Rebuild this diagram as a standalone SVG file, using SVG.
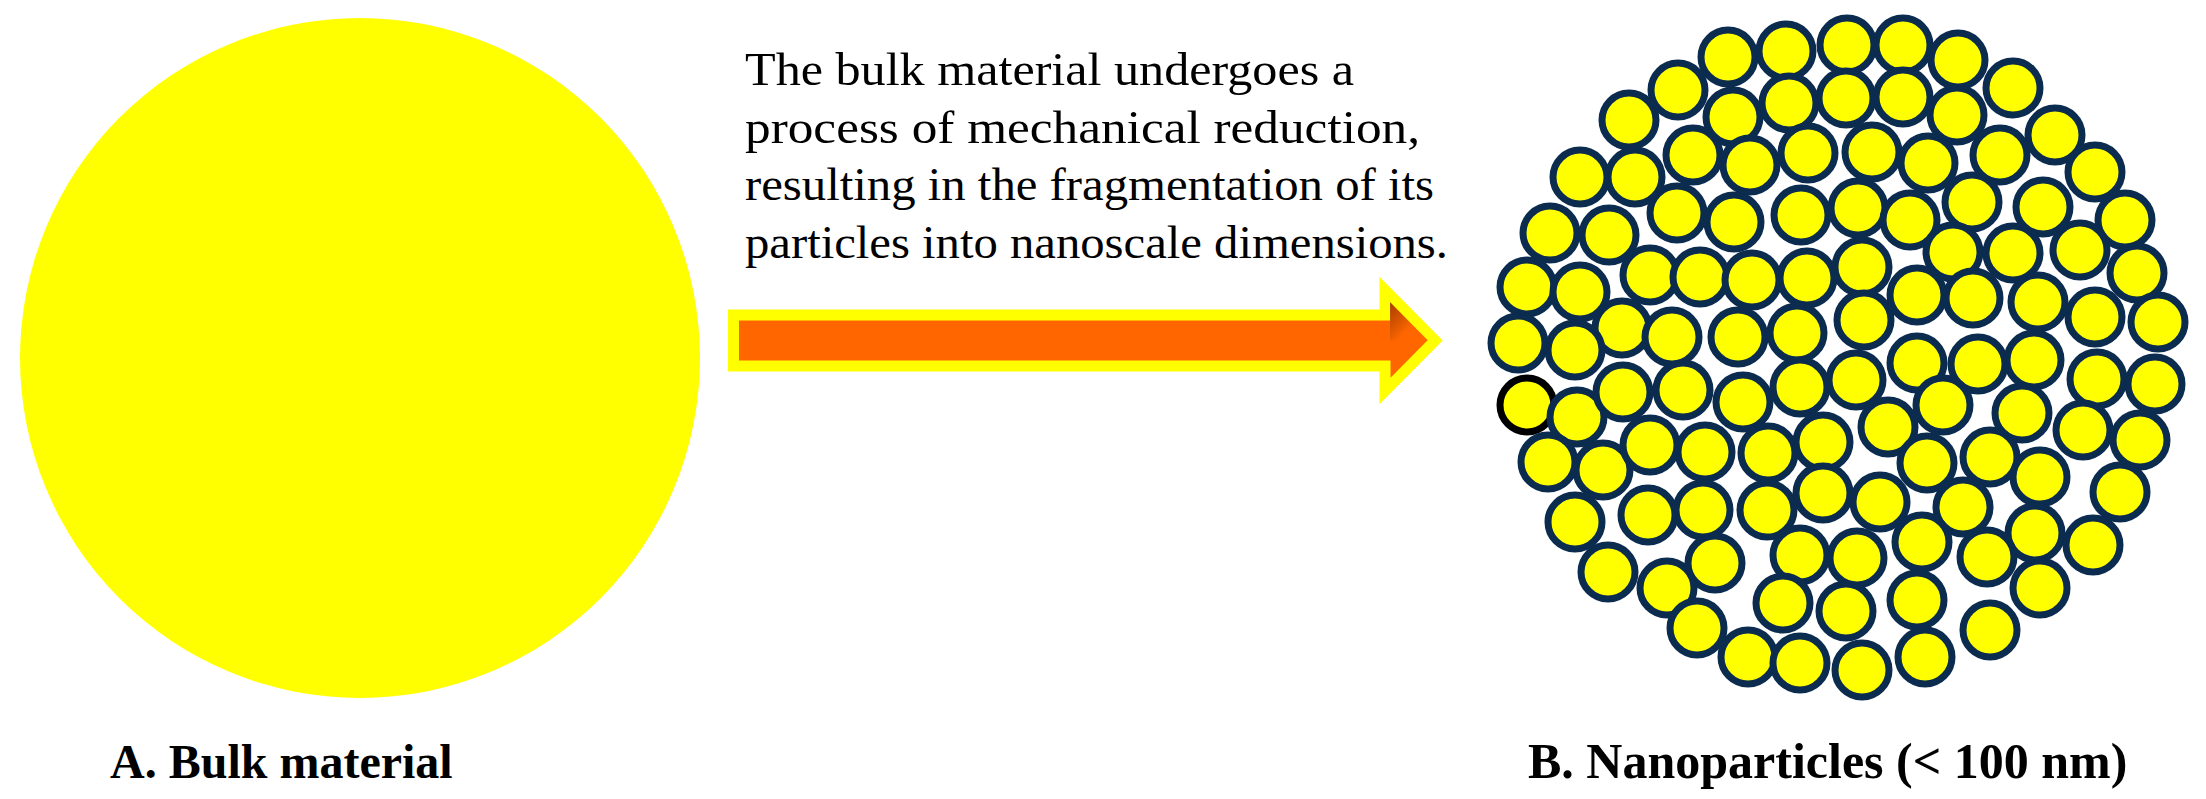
<svg xmlns="http://www.w3.org/2000/svg" width="2206" height="799" viewBox="0 0 2206 799">
<style>
.p{fill:#FFFF00;stroke:#0B2C4E;stroke-width:7}
.pk{fill:#FFFF00;stroke:#000000;stroke-width:7}
.lbl{font-family:"Liberation Serif","Times New Roman",serif;font-weight:bold;font-size:48px;fill:#000}
.desc{font-family:"Liberation Serif","Times New Roman",serif;font-size:47px;fill:#000}
</style>
<defs>
<linearGradient id="shaftGrad" x1="0" y1="0" x2="0" y2="1">
<stop offset="0" stop-color="#B84200"/>
<stop offset="0.14" stop-color="#FF6600"/>
<stop offset="1" stop-color="#FF6600"/>
</linearGradient>
<linearGradient id="headGrad" x1="0" y1="0" x2="1" y2="1">
<stop offset="0" stop-color="#9A3500"/>
<stop offset="0.45" stop-color="#E05A00"/>
<stop offset="0.6" stop-color="#FF6600"/>
<stop offset="1" stop-color="#FF6600"/>
</linearGradient>
</defs>
<rect width="2206" height="799" fill="#FFFFFF"/>

<g id="bulk">
<circle cx="360" cy="358" r="340" fill="#FFFF00"/>
</g>

<g id="connectors">
<path d="M733.5,315 L1385,315 L1385,290 L1435,340.5 L1385,391 L1385,366 L733.5,366 Z" fill="url(#shaftGrad)" stroke="#FFFF00" stroke-width="11" stroke-linejoin="miter"/>
<path d="M1390,302 L1428,340.5 L1390,340.5 Z" fill="url(#headGrad)" opacity="0.85"/>
</g>

<g id="description">
<text class="desc" x="745" y="85" textLength="609" lengthAdjust="spacingAndGlyphs">The bulk material undergoes a</text>
<text class="desc" x="745" y="143" textLength="675" lengthAdjust="spacingAndGlyphs">process of mechanical reduction,</text>
<text class="desc" x="745" y="200" textLength="689" lengthAdjust="spacingAndGlyphs">resulting in the fragmentation of its</text>
<text class="desc" x="745" y="258" textLength="703" lengthAdjust="spacingAndGlyphs">particles into nanoscale dimensions.</text>
</g>

<g id="nanoparticles">
<circle class="pk" cx="1527" cy="405" r="27"/>
<circle class="p" cx="1728" cy="57" r="27"/>
<circle class="p" cx="1786" cy="51" r="27"/>
<circle class="p" cx="1847" cy="45" r="27"/>
<circle class="p" cx="1903" cy="45" r="27"/>
<circle class="p" cx="1958" cy="60" r="27"/>
<circle class="p" cx="2013" cy="88" r="27"/>
<circle class="p" cx="1678" cy="90" r="27"/>
<circle class="p" cx="1733" cy="117" r="27"/>
<circle class="p" cx="1789" cy="103" r="27"/>
<circle class="p" cx="1846" cy="98" r="27"/>
<circle class="p" cx="1903" cy="97" r="27"/>
<circle class="p" cx="1957" cy="115" r="27"/>
<circle class="p" cx="2055" cy="135" r="27"/>
<circle class="p" cx="1629" cy="120" r="27"/>
<circle class="p" cx="1693" cy="155" r="27"/>
<circle class="p" cx="1750" cy="165" r="27"/>
<circle class="p" cx="1808" cy="153" r="27"/>
<circle class="p" cx="1872" cy="152" r="27"/>
<circle class="p" cx="1928" cy="163" r="27"/>
<circle class="p" cx="2000" cy="155" r="27"/>
<circle class="p" cx="2095" cy="172" r="27"/>
<circle class="p" cx="1580" cy="177" r="27"/>
<circle class="p" cx="1635" cy="177" r="27"/>
<circle class="p" cx="1677" cy="213" r="27"/>
<circle class="p" cx="1734" cy="222" r="27"/>
<circle class="p" cx="1801" cy="215" r="27"/>
<circle class="p" cx="1858" cy="208" r="27"/>
<circle class="p" cx="1910" cy="220" r="27"/>
<circle class="p" cx="1972" cy="202" r="27"/>
<circle class="p" cx="2043" cy="207" r="27"/>
<circle class="p" cx="2125" cy="220" r="27"/>
<circle class="p" cx="1550" cy="233" r="27"/>
<circle class="p" cx="1609" cy="235" r="27"/>
<circle class="p" cx="1650" cy="275" r="27"/>
<circle class="p" cx="1700" cy="277" r="27"/>
<circle class="p" cx="1752" cy="280" r="27"/>
<circle class="p" cx="1807" cy="278" r="27"/>
<circle class="p" cx="1862" cy="267" r="27"/>
<circle class="p" cx="1953" cy="252" r="27"/>
<circle class="p" cx="2013" cy="253" r="27"/>
<circle class="p" cx="2080" cy="250" r="27"/>
<circle class="p" cx="2137" cy="273" r="27"/>
<circle class="p" cx="1527" cy="287" r="27"/>
<circle class="p" cx="1580" cy="292" r="27"/>
<circle class="p" cx="1917" cy="295" r="27"/>
<circle class="p" cx="1973" cy="298" r="27"/>
<circle class="p" cx="2038" cy="302" r="27"/>
<circle class="p" cx="2095" cy="317" r="27"/>
<circle class="p" cx="2158" cy="322" r="27"/>
<circle class="p" cx="1622" cy="328" r="27"/>
<circle class="p" cx="1672" cy="337" r="27"/>
<circle class="p" cx="1738" cy="337" r="27"/>
<circle class="p" cx="1797" cy="333" r="27"/>
<circle class="p" cx="1864" cy="320" r="27"/>
<circle class="p" cx="1518" cy="343" r="27"/>
<circle class="p" cx="1575" cy="350" r="27"/>
<circle class="p" cx="1856" cy="380" r="27"/>
<circle class="p" cx="1917" cy="363" r="27"/>
<circle class="p" cx="1978" cy="364" r="27"/>
<circle class="p" cx="2034" cy="360" r="27"/>
<circle class="p" cx="2097" cy="379" r="27"/>
<circle class="p" cx="2155" cy="384" r="27"/>
<circle class="p" cx="1577" cy="417" r="27"/>
<circle class="p" cx="1623" cy="392" r="27"/>
<circle class="p" cx="1683" cy="390" r="27"/>
<circle class="p" cx="1743" cy="402" r="27"/>
<circle class="p" cx="1800" cy="387" r="27"/>
<circle class="p" cx="1943" cy="405" r="27"/>
<circle class="p" cx="2022" cy="413" r="27"/>
<circle class="p" cx="2083" cy="430" r="27"/>
<circle class="p" cx="2140" cy="440" r="27"/>
<circle class="p" cx="1888" cy="427" r="27"/>
<circle class="p" cx="1548" cy="462" r="27"/>
<circle class="p" cx="1603" cy="470" r="27"/>
<circle class="p" cx="1650" cy="445" r="27"/>
<circle class="p" cx="1705" cy="452" r="27"/>
<circle class="p" cx="1768" cy="453" r="27"/>
<circle class="p" cx="1823" cy="442" r="27"/>
<circle class="p" cx="1927" cy="463" r="27"/>
<circle class="p" cx="1990" cy="457" r="27"/>
<circle class="p" cx="2040" cy="477" r="27"/>
<circle class="p" cx="2120" cy="492" r="27"/>
<circle class="p" cx="1823" cy="493" r="27"/>
<circle class="p" cx="1880" cy="502" r="27"/>
<circle class="p" cx="1963" cy="507" r="27"/>
<circle class="p" cx="1575" cy="522" r="27"/>
<circle class="p" cx="1648" cy="515" r="27"/>
<circle class="p" cx="1703" cy="510" r="27"/>
<circle class="p" cx="1767" cy="510" r="27"/>
<circle class="p" cx="2035" cy="533" r="27"/>
<circle class="p" cx="2093" cy="545" r="27"/>
<circle class="p" cx="1857" cy="558" r="27"/>
<circle class="p" cx="1922" cy="542" r="27"/>
<circle class="p" cx="1987" cy="557" r="27"/>
<circle class="p" cx="1608" cy="572" r="27"/>
<circle class="p" cx="1667" cy="588" r="27"/>
<circle class="p" cx="1715" cy="563" r="27"/>
<circle class="p" cx="1800" cy="555" r="27"/>
<circle class="p" cx="2040" cy="588" r="27"/>
<circle class="p" cx="1783" cy="603" r="27"/>
<circle class="p" cx="1846" cy="611" r="27"/>
<circle class="p" cx="1917" cy="600" r="27"/>
<circle class="p" cx="1990" cy="630" r="27"/>
<circle class="p" cx="1697" cy="628" r="27"/>
<circle class="p" cx="1748" cy="657" r="27"/>
<circle class="p" cx="1800" cy="663" r="27"/>
<circle class="p" cx="1862" cy="670" r="27"/>
<circle class="p" cx="1925" cy="657" r="27"/>
</g>

<g id="label-a">
<text class="lbl" x="110" y="778">A. Bulk material</text>
</g>
<g id="label-b">
<text class="lbl" x="1528" y="778" style="font-size:50px">B. Nanoparticles (&lt; 100 nm)</text>
</g>
</svg>
